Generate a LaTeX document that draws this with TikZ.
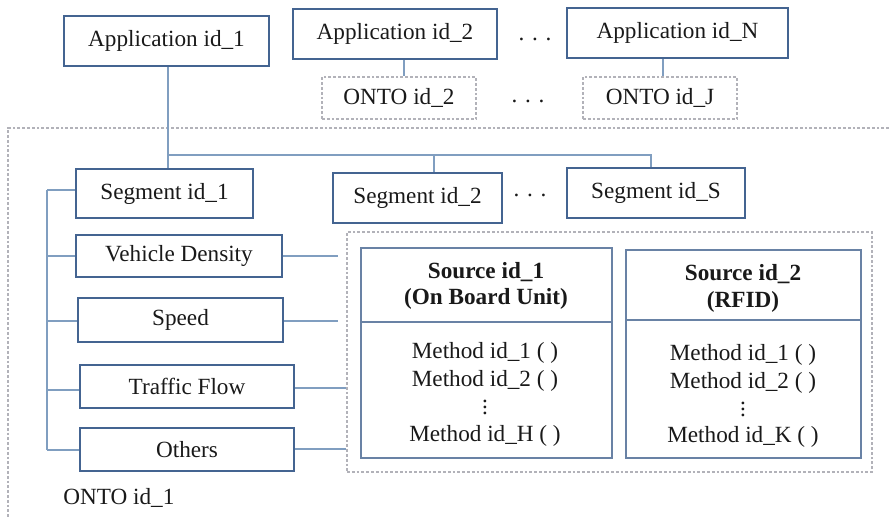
\documentclass[tikz,border=0pt]{standalone}
\usepackage{fontspec}
\setmainfont{Liberation Serif}
\usetikzlibrary{fit}
\definecolor{boxc}{RGB}{68,100,145}
\definecolor{srcc}{RGB}{105,130,165}
\definecolor{linec}{RGB}{128,158,192}
\definecolor{dashc}{RGB}{178,178,185}
\newcommand{\myvdots}{\vbox{\baselineskip=3pt\lineskiplimit=0pt\hbox{.}\hbox{.}\hbox{.}}}
\begin{document}
\begin{tikzpicture}[x=0.5pt,y=-0.5pt,
  every node/.style={font=\fontsize{11.6}{14}\selectfont, text=black!90},
  box/.style={draw=boxc, line width=1.2pt, inner sep=0pt},
  srcbox/.style={draw=srcc, line width=0.9pt, inner sep=0pt, fit={#1}},
  dregion/.style={draw=dashc, line width=0.7pt, dash pattern=on 1.4pt off 1pt, inner sep=0pt, fit={#1}},
  dbox/.style={draw=dashc, line width=0.7pt, dash pattern=on 1.4pt off 1pt, inner sep=0pt},
  conn/.style={draw=linec, line width=0.8pt},
  lbl/.style={inner sep=0pt, anchor=center},
  bold/.style={font=\fontsize{11.6}{14}\selectfont\bfseries},
  dots/.style={inner sep=0pt, anchor=base},
  vdot/.style={inner sep=0pt, anchor=center}
]
\useasboundingbox (0,0) rectangle (889,518);
\clip (0,0) rectangle (889,518);

% outer dashed region ONTO id_1
\node[dregion={(8,128) (905,535)}] (onto1) {};
\node[inner sep=0pt, anchor=west] (onto1lbl) at (63,498) {ONTO id\_1};

% applications
\node[box, minimum width=102.5pt, minimum height=25pt] (app1) at (166.5,41) {Application id\_1};
\node[box, minimum width=102pt, minimum height=25pt] (app2) at (395,34) {Application id\_2};
\node[box, minimum width=110.5pt, minimum height=25pt] (appn) at (677.5,33) {Application id\_N};
\node[dots] (adots) at (535,41) {. . .};

% ontologies
\node[dbox, minimum width=77pt, minimum height=21pt] (onto2) at (399,98) {ONTO id\_2};
\node[dbox, minimum width=77pt, minimum height=21pt] (ontoj) at (660,98) {ONTO id\_J};
\node[dots] (odots) at (528,103) {. . .};

% segments
\node[box, minimum width=88.5pt, minimum height=24.5pt] (seg1) at (164.5,193.5) {Segment id\_1};
\node[box, minimum width=84.5pt, minimum height=25pt] (seg2) at (417.5,198) {Segment id\_2};
\node[box, minimum width=89pt, minimum height=25pt] (segs) at (656,193) {Segment id\_S};
\node[dots] (sdots) at (530,197) {. . .};

% features
\node[box, minimum width=103pt, minimum height=21pt] (vd) at (179,256) {Vehicle Density};
\node[box, minimum width=102.5pt, minimum height=22pt] (sp) at (180.5,320) {Speed};
\node[box, minimum width=107pt, minimum height=21.5pt] (tf) at (187,386.5) {Traffic Flow};
\node[box, minimum width=107pt, minimum height=21.5pt] (ot) at (187,449.5) {Others};

% sources region
\node[dregion={(347,232) (872,472)}] (srcreg) {};
\node[srcbox={(361,248) (612,458)}] (src1) {};
\node[srcbox={(626,250) (861,458)}] (src2) {};
\draw[draw=srcc, line width=0.9pt] (src1.west |- 0,322) -- (src1.east |- 0,322);
\draw[draw=srcc, line width=0.9pt] (src2.west |- 0,320) -- (src2.east |- 0,320);

\node[lbl, bold] (s1t) at (486,272) {Source id\_1};
\node[lbl, bold] (s1u) at (486,299) {(On Board Unit)};
\node[lbl] (s1m1) at (485,353) {Method id\_1 ( )};
\node[lbl] (s1m2) at (485,381) {Method id\_2 ( )};
\node[vdot] (s1md) at (485,407) {\myvdots};
\node[lbl] (s1mh) at (485,436) {Method id\_H ( )};

\node[lbl, bold] (s2t) at (743,274) {Source id\_2};
\node[lbl, bold] (s2u) at (743,302) {(RFID)};
\node[lbl] (s2m1) at (743,355) {Method id\_1 ( )};
\node[lbl] (s2m2) at (743,383) {Method id\_2 ( )};
\node[vdot] (s2md) at (743,409) {\myvdots};
\node[lbl] (s2mk) at (743,437) {Method id\_K ( )};

% connectors top
\coordinate (j1) at (168,155);
\coordinate (j2) at (434,155);
\coordinate (j3) at (651,155);
\draw[conn] (app1.south -| j1) -- (j1) -- (j3) -- (segs.north -| j3);
\draw[conn] (j1) -- (seg1.north -| j1);
\draw[conn] (j2) -- (seg2.north -| j2);
\coordinate (a2x) at (404,0);
\coordinate (anx) at (663,0);
\draw[conn] (app2.south -| a2x) -- (onto2.north -| a2x);
\draw[conn] (appn.south -| anx) -- (ontoj.north -| anx);

% left bus
\coordinate (bt) at (47,190);
\coordinate (bb) at (47,450);
\draw[conn] (bt) -- (bb);
\draw[conn] (bt) -- (seg1.west |- bt);
\draw[conn] (47,256) -- (vd.west |- 0,256);
\draw[conn] (47,321) -- (sp.west |- 0,321);
\draw[conn] (47,390) -- (tf.west |- 0,390);
\draw[conn] (bb) -- (ot.west |- bb);

% right links
\coordinate (vdr) at (338,256);
\coordinate (spr) at (338,321);
\draw[conn] (vd.east |- vdr) -- (vdr);
\draw[conn] (sp.east |- spr) -- (spr);
\draw[conn] (tf.east |- 0,388) -- (srcreg.west |- 0,388);
\draw[conn] (ot.east |- 0,449) -- (srcreg.west |- 0,449);
\end{tikzpicture}
\end{document}
